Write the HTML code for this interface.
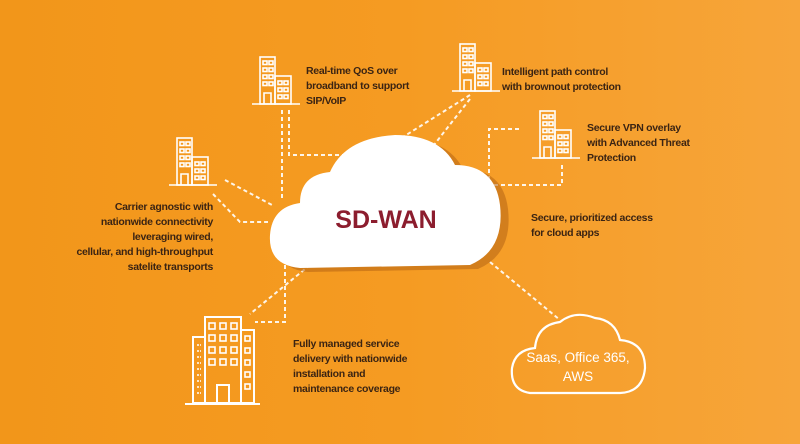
<!DOCTYPE html>
<html><head><meta charset="utf-8"><style>
html,body{margin:0;padding:0}
body{width:800px;height:444px;overflow:hidden;background:linear-gradient(90deg,#f2961a 0%,#f59b22 50%,#f7a53a 100%);position:relative;font-family:"Liberation Sans",sans-serif}
.t{position:absolute;color:#3b2413;font-size:10.5px;line-height:15px;font-weight:bold;letter-spacing:-0.3px}
</style></head><body>
<svg width="800" height="444" style="position:absolute;left:0;top:0">
<defs>
<g id="b" fill="none" stroke="#fff" stroke-width="1.6">
<rect x="8" y="1" width="15" height="47"/>
<rect x="23" y="20" width="16" height="28"/>
<line x1="0" y1="48" x2="48" y2="48"/>
<rect x="11" y="5" width="4" height="3.5"/><rect x="17" y="5" width="4" height="3.5"/>
<rect x="11" y="12" width="4" height="3.5"/><rect x="17" y="12" width="4" height="3.5"/>
<rect x="11" y="19" width="4" height="3.5"/><rect x="17" y="19" width="4" height="3.5"/>
<rect x="11" y="26" width="4" height="3.5"/><rect x="17" y="26" width="4" height="3.5"/>
<path d="M12 48 V37 H19 V48"/>
<rect x="26" y="25" width="4" height="3.5"/><rect x="32" y="25" width="4" height="3.5"/>
<rect x="26" y="32" width="4" height="3.5"/><rect x="32" y="32" width="4" height="3.5"/>
<rect x="26" y="39" width="4" height="3.5"/><rect x="32" y="39" width="4" height="3.5"/>
</g>
</defs>
<g stroke="#fff" stroke-width="2" stroke-dasharray="4,3" fill="none" opacity="0.9">
<path d="M282 110 V200"/><path d="M289 110 V155 H345"/>
<path d="M470 95 L403 137"/><path d="M470 99 L430 150"/>
<path d="M519 129 H489 V185 H562 V163"/>
<path d="M225 180 L272 205"/><path d="M213 194 L240 222 H268"/>
<path d="M310 265 L250 314"/><path d="M285 265 V322 H255"/>
<path d="M490 262 L560 320"/>
</g>
<use href="#b" x="252" y="56"/>
<use href="#b" x="452" y="43"/>
<use href="#b" x="532" y="110"/>
<use href="#b" x="169" y="137"/>
<!-- big building -->
<g fill="none" stroke="#fff" stroke-width="2">
<rect x="193" y="337" width="12" height="66"/>
<rect x="205" y="317" width="36" height="86"/>
<rect x="241" y="330" width="13" height="73"/>
<line x1="185" y1="404" x2="260" y2="404"/>
<path d="M217 404 V385 H229 V404"/>
<g stroke-width="1.6">
<rect x="209" y="323" width="6" height="6"/><rect x="220" y="323" width="6" height="6"/><rect x="231" y="323" width="6" height="6"/>
<rect x="209" y="335" width="6" height="6"/><rect x="220" y="335" width="6" height="6"/><rect x="231" y="335" width="6" height="6"/>
<rect x="209" y="347" width="6" height="6"/><rect x="220" y="347" width="6" height="6"/><rect x="231" y="347" width="6" height="6"/>
<rect x="209" y="359" width="6" height="6"/><rect x="220" y="359" width="6" height="6"/><rect x="231" y="359" width="6" height="6"/>
<rect x="245" y="336" width="5" height="5"/><rect x="245" y="348" width="5" height="5"/><rect x="245" y="360" width="5" height="5"/><rect x="245" y="372" width="5" height="5"/><rect x="245" y="384" width="5" height="5"/>
<path d="M197 345 H201 M197 351 H201 M197 357 H201 M197 363 H201 M197 369 H201 M197 375 H201 M197 381 H201 M197 387 H201 M197 393 H201" stroke-dasharray="2,1"/>
</g></g>
<!-- main cloud shadow + cloud -->
<path d="M300 268 Q268 265 270 235 Q272 207 300 203 Q300 175 330 172 Q345 138 395 135 Q440 135 455 165 Q495 165 500 205 Q505 250 470 265 Z" fill="#b46414" opacity="0.55" transform="translate(8,4)"/>
<path d="M300 268 Q268 265 270 235 Q272 207 300 203 Q300 175 330 172 Q345 138 395 135 Q440 135 455 165 Q495 165 500 205 Q505 250 470 265 Z" fill="#fff"/>
<text x="386" y="228" text-anchor="middle" font-family="Liberation Sans" font-weight="bold" font-size="25" fill="#8c1d2e">SD-WAN</text>
<!-- outline cloud -->
<path d="M530 393 Q510 390 512 368 Q515 350 535 348 Q537 325 560 322 Q575 310 595 318 Q615 320 620 340 Q645 342 645 368 Q643 392 620 393 Z" fill="none" stroke="#fff" stroke-width="2.2"/>
<text x="578" y="362" text-anchor="middle" font-family="Liberation Sans" font-size="13.5" fill="#fff">Saas, Office 365,</text>
<text x="578" y="381" text-anchor="middle" font-family="Liberation Sans" font-size="13.5" fill="#fff">AWS</text>
</svg>
<div class="t" style="left:306px;top:64px">Real-time QoS over<br>broadband to support<br>SIP/VoIP</div>
<div class="t" style="left:502px;top:65px">Intelligent path control<br>with brownout protection</div>
<div class="t" style="left:587px;top:121px">Secure VPN overlay<br>with Advanced Threat<br>Protection</div>
<div class="t" style="left:531px;top:211px">Secure, prioritized access<br>for cloud apps</div>
<div class="t" style="left:40px;width:173px;top:200px;text-align:right;line-height:15px">Carrier agnostic with<br>nationwide connectivity<br>leveraging wired,<br>cellular, and high-throughput<br>satelite transports</div>
<div class="t" style="left:293px;top:337px">Fully managed service<br>delivery with nationwide<br>installation and<br>maintenance coverage</div>
</body></html>
